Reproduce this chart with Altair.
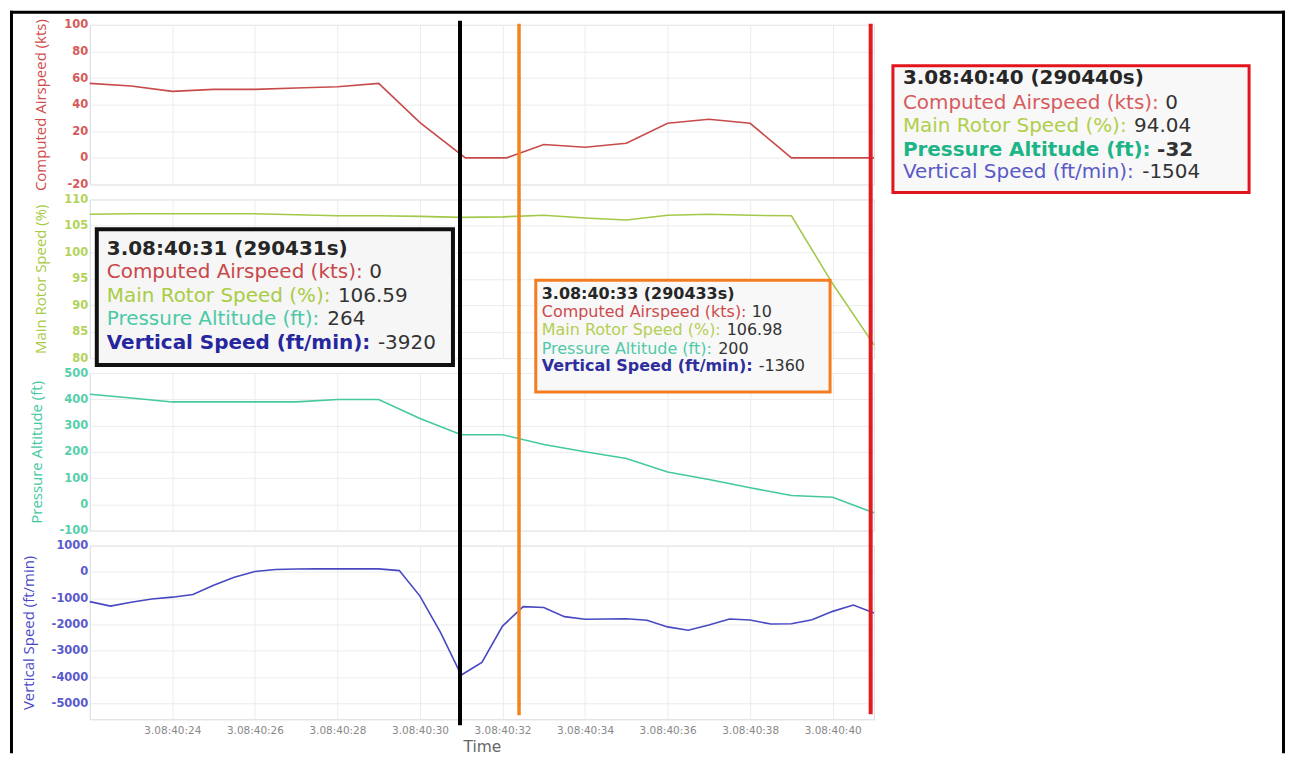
import altair as alt
import pandas as pd

# ---------------- data ----------------
X_TICKS = [24, 26, 28, 30, 32, 34, 36, 38, 40]
X_DOMAIN = [22, 41]

AIRSPEED_T = [22, 23, 24, 25, 26, 27, 28, 29, 30, 31.1, 32.1, 33, 34, 35, 36, 37, 38, 39, 40, 41]
AIRSPEED_V = [56, 54, 50, 51.5, 51.5, 52.5, 53.5, 56, 26.5, 0, 0, 10, 8, 11, 26, 29, 26, 0, 0, 0]

ROTOR_T = [22, 23, 24, 25, 26, 27, 28, 29, 30, 31, 32, 33, 34, 35, 36, 37, 38, 39, 40, 41]
ROTOR_V = [107.2, 107.3, 107.3, 107.3, 107.3, 107.1, 106.9, 106.9, 106.8, 106.6,
           106.7, 107.0, 106.5, 106.1, 107.0, 107.2, 107.0, 106.9, 94.04, 82.5]

ALT_T = [22, 23, 24, 25, 26, 27, 28, 29, 30, 31, 32, 33, 34, 35, 36, 37, 38, 39, 40, 41]
ALT_V = [419, 405, 390, 390, 390, 390, 399, 399, 327, 265, 265, 228, 200, 175, 123, 95, 63, 34, 27, -32]

VS_T = [22, 22.5, 23, 23.5, 24, 24.5, 25, 25.5, 26, 26.5, 27, 27.5, 28, 28.5, 29, 29.5,
        30, 30.5, 31, 31.5, 32, 32.5, 33, 33.5, 34, 34.5, 35, 35.5, 36, 36.5, 37, 37.5,
        38, 38.5, 39, 39.5, 40, 40.5, 41]
VS_V = [-1130, -1300, -1150, -1030, -960, -860, -510, -200, 15, 90, 110, 115, 115, 115, 115, 50,
        -920, -2310, -3920, -3440, -2060, -1320, -1350, -1700, -1800, -1790, -1780, -1840, -2090, -2220, -2020, -1790,
        -1830, -1980, -1970, -1820, -1500, -1260, -1560]

SERIES_NAMES = ["Computed Airspeed (kts)", "Main Rotor Speed (%)",
                "Pressure Altitude (ft)", "Vertical Speed (ft/min)"]
Y_DOMAINS = [[-20, 100], [80, 110], [-100, 500], [-5600, 1000]]
Y_TICKS = [[-20, 0, 20, 40, 60, 80, 100],
           [80, 85, 90, 95, 100, 105, 110],
           [-100, 0, 100, 200, 300, 400, 500],
           [-5000, -4000, -3000, -2000, -1000, 0, 1000]]

CURSOR_T = [30.97, 32.4, 40.92]
CURSOR_HEADS = ["3.08:40:31 (290431s)", "3.08:40:33 (290433s)", "3.08:40:40 (290440s)"]
CURSOR_VALUES = [["0", "106.59", "264", "-3920"],
                 ["10", "106.98", "200", "-1360"],
                 ["0", "94.04", "-32", "-1504"]]

# ---------------- styles / layout ----------------
LINE_COLORS = ["#c84b4b", "#a3c94a", "#45c8a0", "#4848c2"]
LABEL_COLORS = ["#d65a5a", "#b2d35a", "#55cfaa", "#5a5acc"]
TITLE_COLORS = ["#d04b4b", "#a6cb45", "#44c8a0", "#4a4ac6"]
HEIGHTS = [160, 159, 158, 174]
WIDTH = 786
SPACING = 15
GRID = "#ececec"
FONT = "DejaVu Sans"

# origin of the last panel in page coordinates (used for the overlay)
OX, OY = 88, 544

CURSOR_STYLE = [
    dict(color="#000000", width=4, y1=18, y2=724),
    dict(color="#f5821f", width=3.5, y1=21, y2=714),
    dict(color="#e01b22", width=4, y1=21, y2=713),
]

BOXES = [
    dict(x1=95, y1=227, x2=452, y2=363, stroke="#111111", sw=4, fill="#f6f6f6", tx=105,
         ys=[247, 270, 294, 317, 341], fs=20,
         colors=["#c9484a", "#a9cc45", "#4cc9a6", "#26269e"],
         bold=[False, False, False, True], vbold=[False, False, False, False]),
    dict(x1=535, y1=278, x2=830, y2=390, stroke="#f47d22", sw=3, fill="#f8f8f8", tx=541,
         ys=[292, 310, 328, 347, 364], fs=16,
         colors=["#cc4a4c", "#b3cf55", "#4fcaa8", "#2e2e9c"],
         bold=[False, False, False, True], vbold=[False, False, False, False]),
    dict(x1=893, y1=63, x2=1250, y2=190, stroke="#e3151c", sw=3, fill="#f8f8f8", tx=903,
         ys=[75, 100, 123, 147, 170], fs=20,
         colors=["#d65c5e", "#b0cf4a", "#1db587", "#5a5ac6"],
         bold=[False, False, True, False], vbold=[False, False, True, False]),
]

# approximate DejaVu Sans advance widths (em)
W_REG = {' ': .318, '(': .390, ')': .390, '%': .950, '-': .361, '.': .318, '/': .337, ':': .337,
         'A': .684, 'C': .698, 'M': .863, 'P': .603, 'R': .695, 'S': .635, 'V': .684,
         'a': .613, 'c': .550, 'd': .635, 'e': .615, 'f': .352, 'i': .278, 'k': .579, 'l': .278,
         'm': .974, 'n': .634, 'o': .612, 'p': .635, 'r': .411, 's': .521, 't': .392, 'u': .634}
W_BOLD = {' ': .348, '(': .457, ')': .457, '%': 1.002, '-': .415, '.': .380, '/': .365, ':': .400,
          'A': .774, 'C': .734, 'M': .995, 'P': .733, 'R': .770, 'S': .720, 'V': .774,
          'a': .675, 'c': .593, 'd': .716, 'e': .678, 'f': .435, 'i': .343, 'k': .665, 'l': .343,
          'm': 1.042, 'n': .712, 'o': .687, 'p': .716, 'r': .493, 's': .595, 't': .478, 'u': .712}


def text_w(s, size, bold):
    tbl = W_BOLD if bold else W_REG
    return sum(tbl.get(ch, .696 if bold else .636) for ch in s) * size


def one():
    return pd.DataFrame({"k": [0]})


def rx(px):
    return px - OX


def ry(py):
    return py - OY


x_scale = alt.Scale(domain=X_DOMAIN, nice=False, zero=False)


def y_axis(i):
    return alt.Axis(values=Y_TICKS[i], labelExpr="'' + datum.value",
                    title=SERIES_NAMES[i], titleColor=TITLE_COLORS[i],
                    titleFont="Open Sans", titleFontSize=15, titleFontWeight="normal",
                    titleLimit=400, titlePadding=15, labelColor=LABEL_COLORS[i], labelFont=FONT,
                    labelFontSize=11.5, labelFontWeight="bold", labelPadding=2,
                    ticks=False, tickSize=0, domain=True, domainColor="#e2e2ee",
                    grid=True, gridColor=GRID, labelOverlap=False)


def x_axis(bottom):
    if bottom:
        return alt.Axis(values=X_TICKS, labelExpr="'3.08:40:' + datum.value", title="Time",
                        titleColor="#666666", titleFont=FONT, titleFontSize=15.5,
                        titleFontWeight="normal", titlePadding=4, labelColor="#888888",
                        labelFont=FONT, labelFontSize=10.5, labelPadding=6, labelAngle=0,
                        ticks=False, tickSize=0, domain=True, domainColor="#e2e2ea",
                        grid=True, gridColor=GRID)
    return alt.Axis(values=X_TICKS, labels=False, ticks=False, tickSize=0, domain=False,
                    title=None, grid=True, gridColor=GRID)


def line_chart(i, ts, vs, bottom=False):
    df = pd.DataFrame({"t": ts, "v": vs})
    return alt.Chart(df).mark_line(color=LINE_COLORS[i], strokeWidth=1.6).encode(
        x=alt.X("t:Q", scale=x_scale, axis=x_axis(bottom)),
        y=alt.Y("v:Q", scale=alt.Scale(domain=Y_DOMAINS[i], nice=False, zero=False), axis=y_axis(i)),
    )


p1 = line_chart(0, AIRSPEED_T, AIRSPEED_V).properties(width=WIDTH, height=HEIGHTS[0])
p2 = line_chart(1, ROTOR_T, ROTOR_V).properties(width=WIDTH, height=HEIGHTS[1])
p3 = line_chart(2, ALT_T, ALT_V).properties(width=WIDTH, height=HEIGHTS[2])

layers = [line_chart(3, VS_T, VS_V, bottom=True)]

# cursor lines
for t, st in zip(CURSOR_T, CURSOR_STYLE):
    layers.append(
        alt.Chart(pd.DataFrame({"t": [t]})).mark_rule(color=st["color"], strokeWidth=st["width"]).encode(
            x=alt.X("t:Q", scale=x_scale), y=alt.value(ry(st["y1"])), y2=alt.value(ry(st["y2"])))
    )

# tooltip boxes
for b, head, vals in zip(BOXES, CURSOR_HEADS, CURSOR_VALUES):
    layers.append(
        alt.Chart(one()).mark_rect(fill=b["fill"], stroke=b["stroke"], strokeWidth=b["sw"]).encode(
            x=alt.value(rx(b["x1"])), x2=alt.value(rx(b["x2"])),
            y=alt.value(ry(b["y1"])), y2=alt.value(ry(b["y2"])))
    )
    layers.append(
        alt.Chart(one()).mark_text(text=head, align="left", baseline="middle", font=FONT,
                                   fontSize=b["fs"], fontWeight="bold", color="#262626").encode(
            x=alt.value(rx(b["tx"])), y=alt.value(ry(b["ys"][0])))
    )
    for j in range(4):
        lab = SERIES_NAMES[j] + ":"
        bold = b["bold"][j]
        layers.append(
            alt.Chart(one()).mark_text(text=lab, align="left", baseline="middle", font=FONT,
                                       fontSize=b["fs"], fontWeight="bold" if bold else "normal",
                                       color=b["colors"][j]).encode(
                x=alt.value(rx(b["tx"])), y=alt.value(ry(b["ys"][j + 1])))
        )
        off = text_w(lab, b["fs"], bold) + text_w(" ", b["fs"], False)
        layers.append(
            alt.Chart(one()).mark_text(text=vals[j], align="left", baseline="middle", font=FONT,
                                       fontSize=b["fs"], fontWeight="bold" if b["vbold"][j] else "normal",
                                       color="#333333").encode(
                x=alt.value(rx(b["tx"]) + off), y=alt.value(ry(b["ys"][j + 1])))
        )

# outer frame of the figure
FRAME_L, FRAME_R, FRAME_T, FRAME_B = 9.5, 1284.5, 9.5, 752
layers.append(alt.Chart(one()).mark_rule(color="#000000", strokeWidth=3).encode(
    x=alt.value(rx(FRAME_L)), y=alt.value(ry(8)), y2=alt.value(ry(FRAME_B))))
layers.append(alt.Chart(one()).mark_rule(color="#000000", strokeWidth=3).encode(
    x=alt.value(rx(FRAME_R)), y=alt.value(ry(8)), y2=alt.value(ry(FRAME_B))))
layers.append(alt.Chart(one()).mark_rule(color="#000000", strokeWidth=3).encode(
    x=alt.value(rx(8)), x2=alt.value(rx(1286)), y=alt.value(ry(FRAME_T))))

p4 = alt.layer(*layers).properties(width=WIDTH, height=HEIGHTS[3])

chart = alt.vconcat(p1, p2, p3, p4, spacing=SPACING, bounds="flush",
                    padding={"left": 0, "top": 0, "right": 0, "bottom": 0}).configure_view(
    stroke=None).configure(background="white")

chart.save("out.html", embed_options={"renderer": "svg", "actions": False})
